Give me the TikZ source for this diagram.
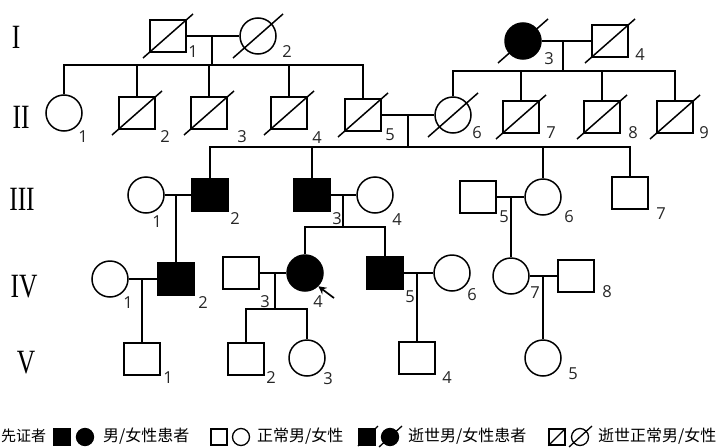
\documentclass[tikz,border=0pt]{standalone}
\usepackage{graphicx}
\usepackage{fontspec}
\setmainfont{Liberation Serif}
\newfontfamily\cjk{Noto Sans CJK SC}
\newfontfamily\lab{Open Sans}
\usetikzlibrary{arrows.meta}
\tikzset{
  ln/.style={line width=1.5pt},
  male/.style={draw, line width=1.5pt, rectangle, minimum width=36pt, minimum height=32pt, inner sep=0pt},
  female/.style={draw, line width=1.5pt, circle, minimum size=36pt, inner sep=0pt},
  aff/.style={fill=black},
  lbl/.style={font=\lab\fontsize{16.5}{16.5}\selectfont, inner sep=0pt, text=black!85},
  gen/.style={font=\fontsize{34}{34}\selectfont, inner sep=0pt},
  leg/.style={font=\cjk\fontsize{16}{16}\selectfont, inner sep=0pt, anchor=west},
  lsq/.style={draw, line width=1.3pt, rectangle, minimum size=16pt, inner sep=0pt},
  lci/.style={draw, line width=1.3pt, circle, minimum size=17pt, inner sep=0pt},
}
\newcommand\deadmark[1]{\draw[ln] (#1.center) +(-25,22) -- +(25,-22);}
\newcommand\gl[1]{\scalebox{0.75}[1]{#1}}
\begin{document}
\begin{tikzpicture}[x=1pt,y=-1pt]
\useasboundingbox (0,0) rectangle (722,447);
% generation labels
\node[gen] (gI) at (16,37) {\gl{I}};
\node[gen] (gII) at (21,117) {\gl{II}};
\node[gen] (gIII) at (22,199) {\gl{III}};
\node[gen] (gIV) at (24,287) {\gl{IV}};
\node[gen] (gV) at (26,363) {\gl{V}};

% ---------- Generation I ----------
\node[male] (I1) at (168,36) {};
\node[female] (I2) at (258,36) {};
\node[female,aff] (I3) at (523,41) {};
\node[male] (I4) at (610,41) {};
\deadmark{I1}\deadmark{I2}\deadmark{I3}\deadmark{I4}
\node[lbl] (lI1) at (193,52) {1};
\node[lbl] (lI2) at (287,52) {2};
\node[lbl] (lI3) at (549,59) {3};
\node[lbl] (lI4) at (640,55) {4};

\coordinate (m12) at (212,36);
\coordinate (b12) at (212,65);
\coordinate (m34) at (563,41);
\coordinate (b34) at (563,71);
\draw[ln] (I1.east) -- (I2.west);
\draw[ln] (I3.east) -- (I4.west);
\draw[ln] (m12) -- (b12);
\draw[ln] (m34) -- (b34);

% ---------- Generation II ----------
\node[female] (II1) at (64,113) {};
\node[male] (II2) at (137,113) {};
\node[male] (II3) at (209,113) {};
\node[male] (II4) at (289,113) {};
\node[male] (II5) at (363,115) {};
\node[female] (II6) at (453,115) {};
\node[male] (II7) at (521,117) {};
\node[male] (II8) at (602,117) {};
\node[male] (II9) at (675,117) {};
\deadmark{II2}\deadmark{II3}\deadmark{II4}\deadmark{II5}\deadmark{II6}
\deadmark{II7}\deadmark{II8}\deadmark{II9}
\node[lbl] (lII1) at (83,137) {1};
\node[lbl] (lII2) at (165,137) {2};
\node[lbl] (lII3) at (242,137) {3};
\node[lbl] (lII4) at (317,138) {4};
\node[lbl] (lII5) at (390,135) {5};
\node[lbl] (lII6) at (477,133) {6};
\node[lbl] (lII7) at (551,133) {7};
\node[lbl] (lII8) at (633,133) {8};
\node[lbl] (lII9) at (704,133) {9};

% left sibship
\draw[ln] (II1.north) |- (b12) -| (II5.north);
\draw[ln] (II2.north) -- (II2.north |- b12);
\draw[ln] (II3.north) -- (II3.north |- b12);
\draw[ln] (II4.north) -- (II4.north |- b12);
% right sibship
\draw[ln] (II6.north) |- (b34) -| (II9.north);
\draw[ln] (II7.north) -- (II7.north |- b34);
\draw[ln] (II8.north) -- (II8.north |- b34);

% couple II5-II6
\coordinate (m56) at (408,115);
\coordinate (b56) at (408,147);
\draw[ln] (II5.east) -- (II6.west);
\draw[ln] (m56) -- (b56);

% ---------- Generation III ----------
\node[female] (III1) at (146,195) {};
\node[male,aff] (III2) at (210,195) {};
\node[male,aff] (III3) at (312,195) {};
\node[female] (III4) at (375,195) {};
\node[male] (III5) at (478,197) {};
\node[female] (III6) at (543,197) {};
\node[male] (III7) at (630,193) {};
\node[lbl] (lIII1) at (157,222) {1};
\node[lbl] (lIII2) at (235,219) {2};
\node[lbl] (lIII3) at (337,219) {3};
\node[lbl] (lIII4) at (397,220) {4};
\node[lbl] (lIII5) at (504,217) {5};
\node[lbl] (lIII6) at (569,217) {6};
\node[lbl] (lIII7) at (661,214) {7};

\draw[ln] (III2.north) |- (b56) -| (III7.north);
\draw[ln] (III3.north) -- (III3.north |- b56);
\draw[ln] (III6.north) -- (III6.north |- b56);

\coordinate (m3a) at (176,195);
\coordinate (m3b) at (343,195);
\coordinate (b3b) at (343,227);
\coordinate (m3c) at (511,197);
\draw[ln] (III1.east) -- (III2.west);
\draw[ln] (III3.east) -- (III4.west);
\draw[ln] (III5.east) -- (III6.west);
\draw[ln] (m3b) -- (b3b);

% ---------- Generation IV ----------
\node[female] (IV1) at (110,279) {};
\node[male,aff] (IV2) at (176,279) {};
\node[male] (IV3) at (241,273) {};
\node[female,aff] (IV4) at (305,273) {};
\node[male,aff] (IV5) at (385,273) {};
\node[female] (IV6) at (452,273) {};
\node[female] (IV7) at (511,276) {};
\node[male] (IV8) at (576,276) {};
\node[lbl] (lIV1) at (128,303) {1};
\node[lbl] (lIV2) at (203,303) {2};
\node[lbl] (lIV3) at (265,302) {3};
\node[lbl] (lIV4) at (318,302) {4};
\node[lbl] (lIV5) at (410,297) {5};
\node[lbl] (lIV6) at (472,295) {6};
\node[lbl] (lIV7) at (535,293) {7};
\node[lbl] (lIV8) at (607,292) {8};

\draw[ln] (m3a) -- (IV2.north);
\draw[ln] (IV4.north) |- (b3b) -| (IV5.north);
\draw[ln] (m3c) -- (IV7.north);

% proband arrow
\coordinate (pa) at (334,298);
\draw[line width=1.7pt, -{Stealth[length=8pt,width=8pt]}] (pa) -- (IV4.-45);

\coordinate (m4a) at (142,279);
\coordinate (m4b) at (275,273);
\coordinate (b4b) at (275,309);
\coordinate (m4c) at (417,273);
\coordinate (m4d) at (543,276);
\draw[ln] (IV1.east) -- (IV2.west);
\draw[ln] (IV3.east) -- (IV4.west);
\draw[ln] (IV5.east) -- (IV6.west);
\draw[ln] (IV7.east) -- (IV8.west);
\draw[ln] (m4b) -- (b4b);

% ---------- Generation V ----------
\node[male] (V1) at (142,359) {};
\node[male] (V2) at (246,359) {};
\node[female] (V3) at (307,358) {};
\node[male] (V4) at (417,358) {};
\node[female] (V5) at (543,358) {};
\node[lbl] (lV1) at (168,378) {1};
\node[lbl] (lV2) at (271,378) {2};
\node[lbl] (lV3) at (328,379) {3};
\node[lbl] (lV4) at (447,378) {4};
\node[lbl] (lV5) at (573,374) {5};

\draw[ln] (m4a) -- (V1.north);
\draw[ln] (V2.north) |- (b4b) -| (V3.north);
\draw[ln] (m4c) -- (V4.north);
\draw[ln] (m4d) -- (V5.north);

% ---------- Legend ----------
\node[leg, font=\cjk\fontsize{15}{15}\selectfont] (t0) at (1,436) {先证者};
\node[lsq, fill=black] (ls1) at (62,437) {};
\node[lci, fill=black] (lc1) at (85,437) {};
\node[leg] (t1) at (103,436) {男/女性患者};
\node[lsq] (ls2) at (219,437) {};
\node[lci] (lc2) at (241,437) {};
\node[leg] (t2) at (257,436) {正常男/女性};
\node[lsq, fill=black] (ls3) at (367,437) {};
\node[lci, fill=black] (lc3) at (390,437) {};
\draw[line width=1.3pt] (ls3.center) +(-9,9) -- +(11,-11);
\draw[line width=1.3pt] (lc3.center) +(-11,10) -- +(12,-11);
\node[leg] (t3) at (408,436) {逝世男/女性患者};
\node[lsq] (ls4) at (557,437) {};
\node[lci] (lc4) at (580,437) {};
\draw[line width=1.3pt] (ls4.south west) -- (ls4.north east);
\draw[line width=1.3pt] (lc4.center) +(-11,10) -- +(12,-11);
\node[leg] (t4) at (598,436) {逝世正常男/女性};
\end{tikzpicture}
\end{document}
